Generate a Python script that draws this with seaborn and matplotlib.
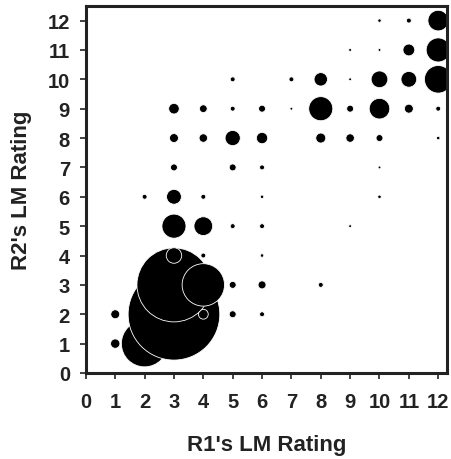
import matplotlib
matplotlib.use("Agg")
import matplotlib.pyplot as plt
import seaborn as sns
import pandas as pd

# rating pairs (R1, R2) and bubble weight (area), ordered by R2 then R1
r1 = [1, 2,
      1, 3, 4, 5, 6,
      3, 4, 5, 6, 8,
      3, 4, 6,
      3, 4, 5, 6, 9,
      2, 3, 4, 6, 10,
      3, 5, 6, 10,
      3, 4, 5, 6, 8, 9, 10, 12,
      3, 4, 5, 6, 7, 8, 9, 10, 11, 12,
      5, 7, 8, 9, 10, 11, 12,
      9, 10, 11, 12,
      10, 11, 12]
r2 = [1, 1,
      2, 2, 2, 2, 2,
      3, 3, 3, 3, 3,
      4, 4, 4,
      5, 5, 5, 5, 5,
      6, 6, 6, 6, 6,
      7, 7, 7, 7,
      8, 8, 8, 8, 8, 8, 8, 8,
      9, 9, 9, 9, 9, 9, 9, 9, 9, 9,
      10, 10, 10, 10, 10, 10, 10,
      11, 11, 11, 11,
      12, 12, 12]
counts = [22, 540,
          20, 2100, 24, 12, 6,
          1370, 450, 12, 16, 6,
          60, 6, 3,
          145, 88, 6, 6, 2,
          6, 55, 6, 3, 3,
          12, 12, 6, 2,
          20, 18, 58, 32, 25, 18, 12, 3,
          28, 15, 6, 12, 2, 145, 12, 106, 20, 6,
          6, 6, 45, 2, 70, 62, 190,
          2, 2, 35, 145,
          3, 6, 106]

df = pd.DataFrame({"R1": r1, "R2": r2, "n": counts})

fig = plt.figure(figsize=(4.52, 4.60), dpi=100)
ax = fig.add_axes([0.19, 0.187, 0.799, 0.798])

nmax = max(counts)
pt_per_px = 72 / 100
sns.scatterplot(data=df, x="R1", y="R2", size="n",
                sizes=(0, nmax * pt_per_px ** 2 * 4),
                size_norm=(0, nmax), color="black",
                edgecolor="white", linewidth=0.6, legend=False, ax=ax)

ax.set_xlim(0, 12.3)
ax.set_ylim(0, 12.5)
ax.set_xticks(range(13))
ax.set_yticks(range(13))
tick_font = {"family": "Liberation Sans", "weight": "bold", "size": 14.5}
label_font = {"family": "Liberation Sans", "weight": "bold", "size": 16}
ax.set_xticklabels([str(i) for i in range(13)], fontdict=tick_font, color="#222222")
ax.set_yticklabels([str(i) for i in range(13)], fontdict=tick_font, color="#222222")
ax.set_xlabel("R1's LM Rating", fontdict=label_font, color="#222222", labelpad=17)
ax.set_ylabel("R2's LM Rating", fontdict=label_font, color="#222222", labelpad=11)
ax.tick_params(axis="x", direction="out", length=4.5, width=1.2, pad=9, color="#222222")
ax.tick_params(axis="y", direction="out", length=4.5, width=1.2, pad=7, color="#222222")
for sp in ax.spines.values():
    sp.set_linewidth(2.2)
    sp.set_color("#222222")

fig.savefig("out.png", dpi=100)
